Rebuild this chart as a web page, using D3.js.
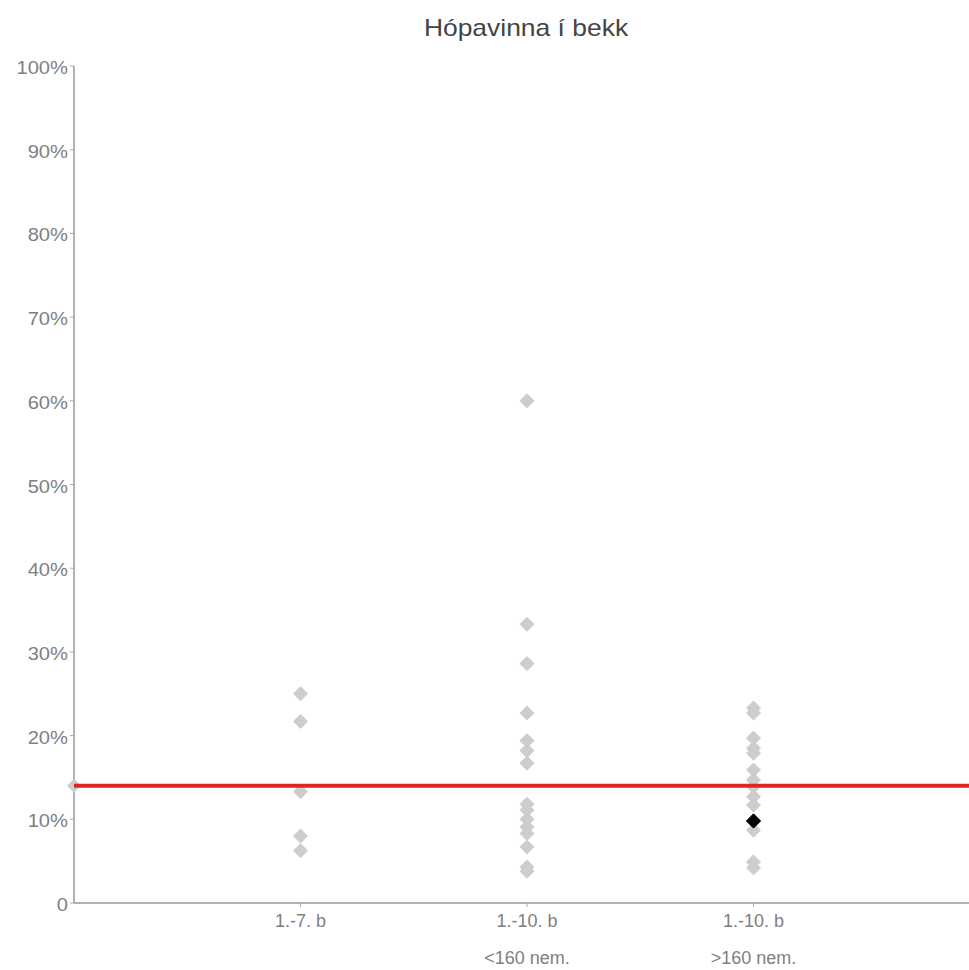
<!DOCTYPE html>
<html>
<head>
<meta charset="utf-8">
<script src="https://cdn.jsdelivr.net/npm/d3@7"></script>
<style>
  html, body { margin: 0; padding: 0; background: #fff; }
  svg { display: block; font-family: "Liberation Sans", Arial, sans-serif; }
</style>
</head>
<body>
<svg id="chart" width="969" height="970"></svg>
<script>
// ---- data ----
const title = "Hópavinna í bekk";
const categories = [
  ["1.-7. b"],
  ["1.-10. b", "<160 nem."],
  ["1.-10. b", ">160 nem."]
];
const group1 = [25, 21.7, 13.3, 8, 6.25];
const group2 = [60, 33.3, 28.6, 22.7, 19.4, 18.2, 16.7, 11.8, 11.1, 10, 9.1, 8.3, 6.7, 4.3, 3.8];
const group3 = [23.3, 22.7, 19.7, 18.5, 17.9, 15.9, 14.7, 13.9, 12.7, 11.7, 8.7, 4.9, 4.2];
const highlight = { group: 3, value: 9.8 };
const averageValue = 14;
const yTicks = [0, 10, 20, 30, 40, 50, 60, 70, 80, 90, 100];

// ---- layout ----
const svg = d3.select("#chart");
const mLeft = 74, mRight = 980, mTop = 66, mBottom = 903;

const x = d3.scaleLinear().domain([0, 4]).range([mLeft, mRight]);
const y = d3.scaleLinear().domain([0, 100]).range([mBottom, mTop]);

// title
svg.append("text")
  .attr("transform", `translate(526,36) scale(1.15,1)`)
  .attr("text-anchor", "middle")
  .attr("font-size", 23)
  .attr("fill", "#444")
  .text(title);

// y axis
const yAxis = svg.append("g");
yAxis.append("line")
  .attr("x1", mLeft).attr("x2", mLeft)
  .attr("y1", y(100)).attr("y2", y(0))
  .attr("stroke", "#999").attr("stroke-width", 1.5);
yAxis.selectAll("line.tick").data(yTicks).join("line")
  .attr("class", "tick")
  .attr("x1", mLeft - 4).attr("x2", mLeft)
  .attr("y1", d => y(d)).attr("y2", d => y(d))
  .attr("stroke", "#aaa").attr("stroke-width", 1);
yAxis.selectAll("text").data(yTicks).join("text")
  .attr("transform", d => `translate(${mLeft - 6},${y(d) + 8}) scale(1.12,1)`)
  .attr("text-anchor", "end")
  .attr("font-size", 18)
  .attr("fill", "#808080")
  .text(d => d === 0 ? "0" : d + "%");

// x axis
const xAxis = svg.append("g");
xAxis.append("line")
  .attr("x1", mLeft).attr("x2", 969)
  .attr("y1", y(0)).attr("y2", y(0))
  .attr("stroke", "#999").attr("stroke-width", 1.5);
xAxis.selectAll("line.tick").data(categories).join("line")
  .attr("class", "tick")
  .attr("x1", (d, i) => x(i + 1)).attr("x2", (d, i) => x(i + 1))
  .attr("y1", y(0)).attr("y2", y(0) + 4)
  .attr("stroke", "#aaa");
categories.forEach((lines, i) => {
  lines.forEach((t, j) => {
    svg.append("text")
      .attr("x", x(i + 1))
      .attr("y", y(0) + 24 + j * 37)
      .attr("text-anchor", "middle")
      .attr("font-size", 18)
      .attr("fill", "#808080")
      .text(t);
  });
});

// points
const diamond = d3.symbol().type(d3.symbolDiamond2).size(125);
const groups = [group1, group2, group3];
const pts = [];
groups.forEach((g, i) => g.forEach(v => pts.push({ gx: i + 1, v })));

svg.append("g").selectAll("path").data(pts).join("path")
  .attr("d", diamond)
  .attr("transform", d => `translate(${x(d.gx)},${y(d.v)})`)
  .attr("fill", "#cdcdcd")
  .attr("stroke", "#cdcdcd")
  .attr("stroke-width", 1)
  .attr("stroke-linejoin", "round");

// average marker at left edge
svg.append("path")
  .attr("d", diamond)
  .attr("transform", `translate(${x(0)},${y(averageValue)})`)
  .attr("fill", "#cdcdcd");

// average line
svg.append("line")
  .attr("x1", x(0)).attr("x2", 969)
  .attr("y1", y(averageValue)).attr("y2", y(averageValue))
  .attr("stroke", "#e02424").attr("stroke-width", 4);

// highlighted point
svg.append("path")
  .attr("d", d3.symbol().type(d3.symbolDiamond2).size(130))
  .attr("transform", `translate(${x(highlight.group)},${y(highlight.value)})`)
  .attr("fill", "#000")
  .attr("stroke", "#000")
  .attr("stroke-width", 1)
  .attr("stroke-linejoin", "round");
</script>
</body>
</html>
